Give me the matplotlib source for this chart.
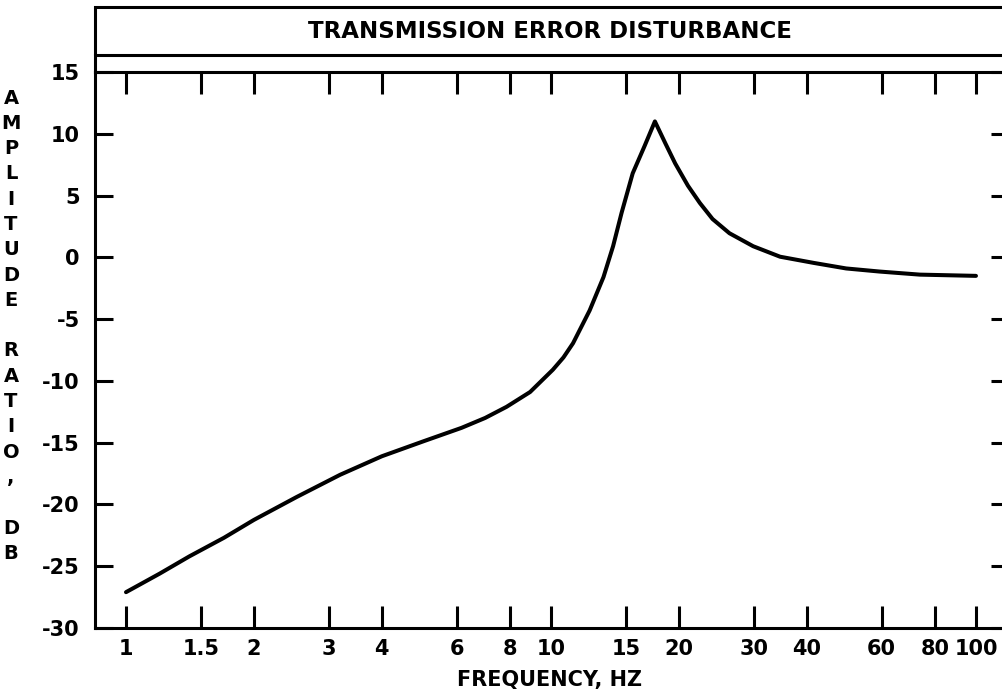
import matplotlib
matplotlib.use('Agg')
import matplotlib.pyplot as plt
from matplotlib.lines import Line2D
from matplotlib.patches import Rectangle

# values
freq = [1.0, 1.2, 1.41, 1.7, 2.0, 2.52, 3.19, 4.0, 5.0, 6.16, 7.0, 7.86,
        8.93, 10.1, 10.7, 11.27, 12.33, 13.29, 14.0, 14.66, 15.57, 16.6,
        17.56, 18.6, 19.6, 21.0, 22.4, 24.0, 26.3, 29.9, 34.6, 41.5, 49.5,
        59.3, 73.8, 100.0]
amp_db = [-27.1, -25.6, -24.2, -22.7, -21.25, -19.4, -17.6, -16.1, -14.9,
          -13.8, -13.0, -12.1, -10.9, -9.1, -8.1, -6.95, -4.3, -1.6, 0.9,
          3.6, 6.8, 9.0, 11.0, 9.2, 7.6, 5.8, 4.4, 3.1, 1.95, 0.9, 0.05,
          -0.45, -0.9, -1.15, -1.4, -1.5]

xticks = [1, 1.5, 2, 3, 4, 6, 8, 10, 15, 20, 30, 40, 60, 80, 100]
xticklabels = ['1', '1.5', '2', '3', '4', '6', '8', '10', '15', '20',
               '30', '40', '60', '80', '100']
yticks = [15, 10, 5, 0, -5, -10, -15, -20, -25, -30]

title = 'TRANSMISSION ERROR DISTURBANCE'
xlabel = 'FREQUENCY, HZ'
ylabel = 'AMPLITUDE RATIO, DB'

W, H = 1002, 695
plt.rcParams['font.family'] = 'DejaVu Sans'
plt.rcParams['font.weight'] = 'bold'

fig = plt.figure(figsize=(W / 100, H / 100), dpi=100)

def fx(px):
    return px / W

def fy(py):
    return 1 - py / H

left, right, top, bottom = 95, 1009, 72, 628
ax = fig.add_axes([fx(left), fy(bottom), fx(right - left), fy(top) - fy(bottom)])

ax.plot(freq, amp_db, color='black', lw=2.9, solid_joinstyle='round',
        solid_capstyle='round')
ax.set_xscale('log')
ax.set_xlim(0.8454, 119.6)
ax.set_ylim(-30, 15)

ax.set_xticks(xticks)
ax.set_xticklabels(xticklabels)
ax.xaxis.set_minor_locator(matplotlib.ticker.NullLocator())
ax.set_yticks(yticks)
ax.set_yticklabels([str(v) for v in yticks])

ax.tick_params(axis='x', direction='in', top=True, length=16, width=2.2,
               labelsize=15, pad=8)
ax.tick_params(axis='y', direction='in', right=True, length=13, width=2.2,
               labelsize=15, pad=11)
for lab in ax.get_xticklabels() + ax.get_yticklabels():
    lab.set_fontweight('bold')

for s in ax.spines.values():
    s.set_linewidth(2.2)

# title box above the plot
fig.patches.append(Rectangle((fx(left), fy(55)), fx(right - left), fy(7) - fy(55),
                             transform=fig.transFigure, fill=False,
                             lw=2.2, ec='black'))
fig.lines.append(Line2D([fx(left), fx(left)], [fy(55), fy(72)],
                        transform=fig.transFigure, color='black', lw=2.2))
fig.text(fx(550), fy(31), title, ha='center', va='center',
         fontsize=16.5, fontweight='bold')

fig.text(fx(550), fy(680), xlabel, ha='center', va='center',
         fontsize=15, fontweight='bold')

# stacked vertical axis label
y0, step = 98, 25.3
for i, ch in enumerate(ylabel):
    if ch == ' ':
        continue
    fig.text(fx(11), fy(y0 + i * step), ch, ha='center', va='center',
             fontsize=14, fontweight='bold')

fig.savefig('out.png', dpi=100)
